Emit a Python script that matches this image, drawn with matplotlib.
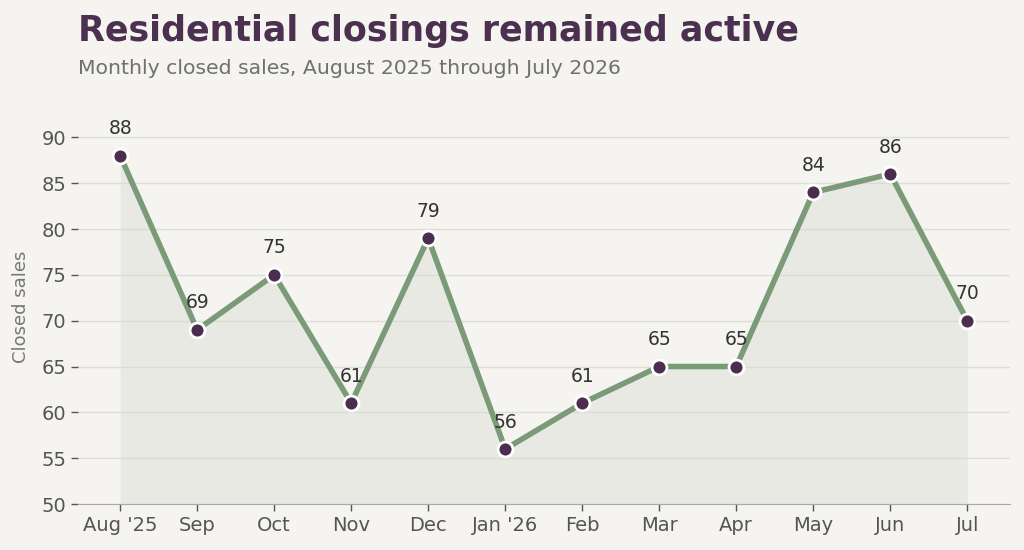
import matplotlib
matplotlib.use("Agg")
import matplotlib.pyplot as plt

plt.rcParams["font.family"] = ["DejaVu Sans"]

months = ["Aug '25", "Sep", "Oct", "Nov", "Dec", "Jan '26", "Feb", "Mar", "Apr", "May", "Jun", "Jul"]
sales = [88, 69, 75, 61, 79, 56, 61, 65, 65, 84, 86, 70]
yticks = [50, 55, 60, 65, 70, 75, 80, 85, 90]

bg = "#f5f4f0"
line_c = "#7a9a78"
mark_c = "#4b2e4f"
title_c = "#4b3050"

fig = plt.figure(figsize=(10.24, 5.5), dpi=100, facecolor=bg)
ax = fig.add_axes([0.076, 0.0836, 0.91, 0.70])
ax.set_facecolor(bg)

x = list(range(len(months)))
ax.fill_between(x, sales, 50, color="#d3d7ce", alpha=0.35, zorder=1, linewidth=0)
ax.plot(x, sales, color=line_c, lw=4, zorder=2, solid_capstyle="round")
ax.scatter(x, sales, s=115, color=mark_c, edgecolor="white", linewidth=2, zorder=3)
for xi, v in zip(x, sales):
    ax.annotate(str(v), (xi, v), xytext=(0, 12.5), textcoords="offset points",
                ha="center", va="bottom", fontsize=13.5, color="#333333")

ax.set_ylim(50, 92)
ax.set_xlim(-0.55, len(months) - 1 + 0.55)
ax.set_yticks(yticks)
ax.set_xticks(x)
ax.set_xticklabels(months)
ax.tick_params(axis="both", colors="#555555", labelsize=14, length=5, width=1)
ax.grid(axis="y", color="#dcdfd7", lw=1)
ax.set_axisbelow(True)
for s in ["top", "right", "left"]:
    ax.spines[s].set_visible(False)
ax.spines["bottom"].set_color("#aaaaaa")
ax.set_ylabel("Closed sales", fontsize=13, color="#777777")
ax.yaxis.set_label_coords(-0.0516, 0.513)

fig.text(0.076, 0.9255, "Residential closings remained active", fontsize=25.1, fontweight="bold",
         color=title_c, ha="left", va="baseline")
fig.text(0.076, 0.8655, "Monthly closed sales, August 2025 through July 2026", fontsize=14.7,
         color="#707070", ha="left", va="baseline")

fig.savefig("out.png", dpi=100, facecolor=bg)
